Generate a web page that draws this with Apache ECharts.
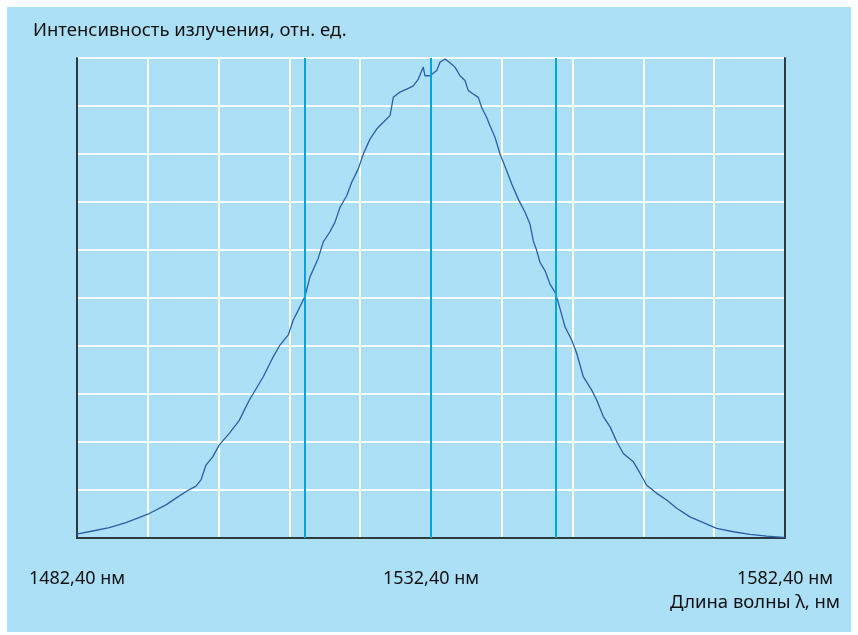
<!DOCTYPE html>
<html>
<head>
<meta charset="utf-8">
<script src="https://cdn.jsdelivr.net/npm/echarts@6/dist/echarts.min.js"></script>
<style>
  html, body { margin: 0; padding: 0; background: #ffffff; }
  #panel { position: absolute; left: 7px; top: 7px; width: 844px; height: 625px; }
</style>
</head>
<body>
<div id="panel"></div>
<script>
// Emission spectrum: wavelength (nm) and relative intensity
const wavelength = [
  1482.4, 1484.6, 1486.96, 1489.32, 1492.61, 1494.97, 1496.38, 1498.04, 1499.21, 1499.91,
  1500.62, 1501.57, 1502.50, 1503.91, 1505.32, 1506.74, 1507.30, 1508.71, 1510.13, 1511.07,
  1512.24, 1512.95, 1513.90, 1514.60, 1515.31, 1516.48, 1517.19, 1518.13, 1518.84, 1519.55,
  1520.49, 1521.20, 1522.13, 1522.84, 1523.78, 1524.73, 1525.66, 1526.61, 1527.08, 1528.02,
  1528.97, 1529.90, 1530.61, 1531.31, 1531.55, 1532.26, 1533.21, 1533.67, 1534.38, 1535.08,
  1535.79, 1536.50, 1537.20, 1537.67, 1538.37, 1539.08, 1539.56, 1540.27, 1540.73, 1541.44,
  1542.15, 1543.09, 1543.80, 1544.73, 1545.68, 1546.38, 1546.85, 1547.33, 1547.80, 1548.50,
  1549.21, 1549.91, 1550.38, 1550.86, 1551.33, 1552.27, 1552.98, 1553.91, 1555.10, 1555.80,
  1556.74, 1557.68, 1558.63, 1559.56, 1560.97, 1561.92, 1562.87, 1564.28, 1565.69, 1567.10,
  1568.98, 1570.86, 1572.75, 1575.10, 1577.46, 1579.82, 1582.16, 1582.4
];
const intensity = [
  0.008, 0.0146, 0.0215, 0.032, 0.051, 0.069, 0.083, 0.099, 0.108, 0.121,
  0.152, 0.169, 0.194, 0.218, 0.245, 0.2875, 0.301, 0.336, 0.378, 0.402,
  0.423, 0.454, 0.482, 0.503, 0.544, 0.583, 0.617, 0.638, 0.658, 0.689,
  0.713, 0.741, 0.769, 0.800, 0.831, 0.852, 0.866, 0.880, 0.918, 0.929,
  0.935, 0.942, 0.956, 0.981, 0.963, 0.963, 0.974, 0.991, 0.998, 0.990,
  0.981, 0.963, 0.953, 0.932, 0.925, 0.918, 0.897, 0.876, 0.859, 0.835,
  0.800, 0.765, 0.7375, 0.706, 0.6785, 0.654, 0.619, 0.599, 0.574, 0.557,
  0.529, 0.512, 0.491, 0.465, 0.440, 0.4125, 0.385, 0.336, 0.308, 0.2875,
  0.253, 0.232, 0.201, 0.176, 0.159, 0.135, 0.110, 0.093, 0.079, 0.062,
  0.044, 0.032, 0.020, 0.013, 0.0077, 0.004, 0.0015, 0.0012
];
// Vertical markers: half-maximum points and the centre wavelength
const markerWavelengths = [1514.5, 1532.4, 1550.05];
// Axis range and labels
const lambdaMin = 1482.4;
const lambdaMax = 1582.4;
const tickLabels = ['1482,40 нм', '1532,40 нм', '1582,40 нм'];
const yAxisTitle = 'Интенсивность излучения, отн. ед.';
const xAxisTitle = 'Длина волны λ, нм';

const points = wavelength.map((w, i) => [w, intensity[i]]);
const FONT = '"Noto Sans", "Open Sans", sans-serif';
const FRAME = { show: true, lineStyle: { color: '#2e3a42', width: 2 } };
const NONE = { show: false };

const chart = echarts.init(document.getElementById('panel'), null, { renderer: 'canvas' });
chart.setOption({
  animation: false,
  backgroundColor: '#abe0f7',
  title: [
    { text: yAxisTitle, left: 26, top: 14, padding: 0,
      textStyle: { fontFamily: FONT, fontSize: 18.5, fontWeight: 'normal', color: '#111111' } },
    { text: xAxisTitle, right: 11, top: 586, padding: 0,
      textStyle: { fontFamily: FONT, fontSize: 18.5, fontWeight: 'normal', color: '#111111' } }
  ],
  grid: { left: 70, top: 51, width: 708, height: 480 },
  xAxis: [
    { // wavelength scale for the data; its line frames the top of the plot
      type: 'value', min: lambdaMin, max: lambdaMax, position: 'top',
      axisLine: FRAME, axisTick: NONE, axisLabel: NONE, splitLine: NONE
    },
    { // ten equal divisions in percent of the range, with labels at the ends and centre
      type: 'value', min: 0, max: 100, interval: 10, position: 'bottom',
      axisLine: FRAME, axisTick: NONE,
      splitLine: { show: true, lineStyle: { color: '#ffffff', width: 2 } },
      axisLabel: {
        show: true, margin: 32, showMinLabel: true, showMaxLabel: true, hideOverlap: false,
        fontFamily: FONT, fontSize: 18, color: '#111111',
        formatter: v => (v % 50 === 0 ? tickLabels[v / 50] : '')
      }
    }
  ],
  yAxis: [
    {
      type: 'value', min: 0, max: 1, interval: 0.1, position: 'left',
      axisLine: FRAME, axisTick: NONE, axisLabel: NONE,
      splitLine: { show: true, lineStyle: { color: '#ffffff', width: 2 } }
    },
    {
      type: 'value', min: 0, max: 1, position: 'right',
      axisLine: FRAME, axisTick: NONE, axisLabel: NONE, splitLine: NONE
    }
  ],
  series: [{
    type: 'line',
    xAxisIndex: 0,
    yAxisIndex: 0,
    data: points,
    showSymbol: false,
    lineStyle: { color: '#2b5ea9', width: 1.3 },
    z: 3,
    markLine: {
      silent: true, symbol: 'none', label: { show: false },
      lineStyle: { color: '#00a5e0', width: 2, type: 'solid' },
      data: markerWavelengths.map(w => ({ xAxis: w }))
    }
  }]
});
</script>
</body>
</html>
